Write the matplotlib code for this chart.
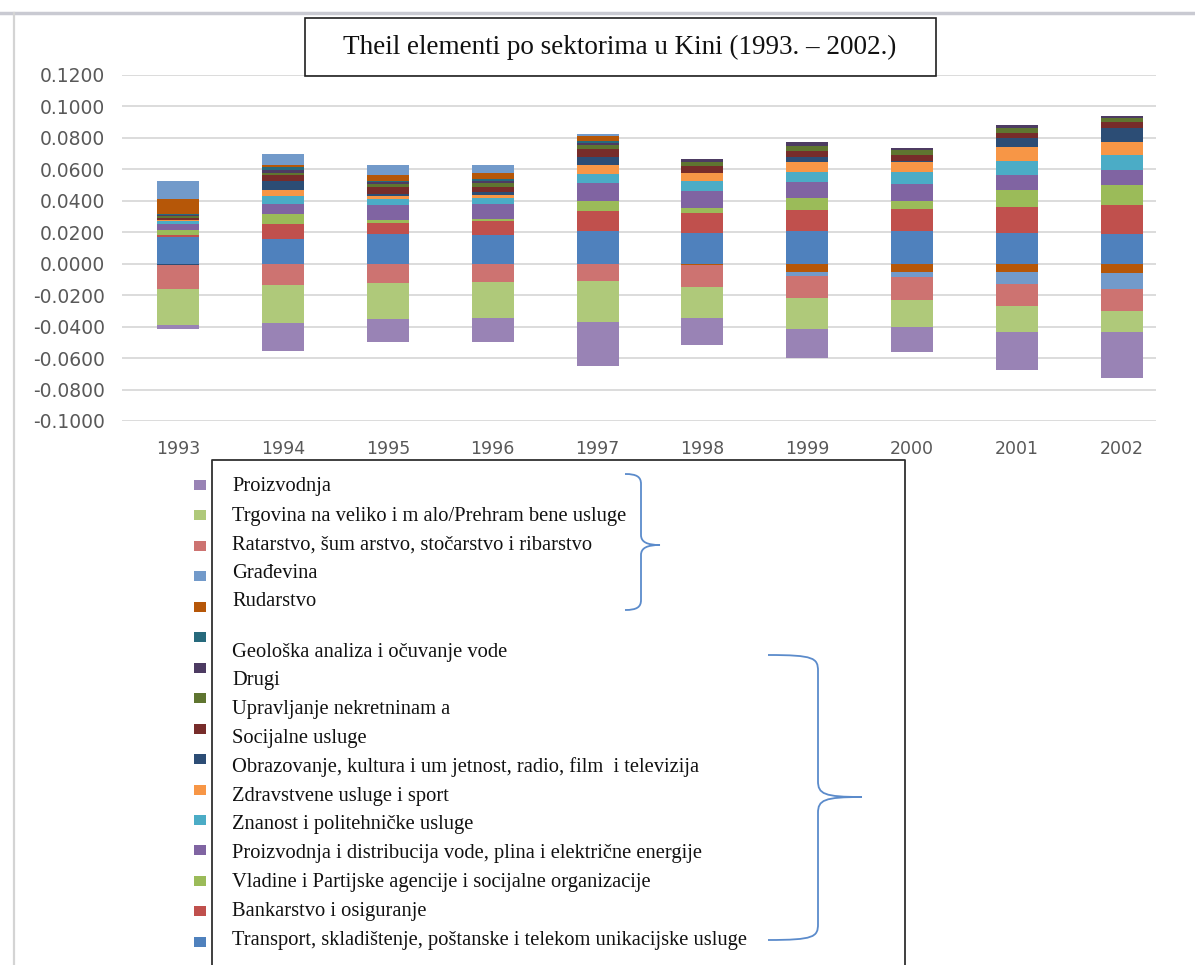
import matplotlib
matplotlib.use("Agg")
import matplotlib.pyplot as plt
from matplotlib.patches import Rectangle, PathPatch
from matplotlib.path import Path
import numpy as np

years = ["1993", "1994", "1995", "1996", "1997", "1998", "1999", "2000", "2001", "2002"]

# series in Excel order (first = bottom of stack)
transport   = [0.0171, 0.0160, 0.0187, 0.0181, 0.0211, 0.0196, 0.0211, 0.0211, 0.0196, 0.0192]
bankarstvo  = [0.0013, 0.0095, 0.0072, 0.0088, 0.0126, 0.0126, 0.0133, 0.0139, 0.0162, 0.0181]
vladine     = [0.0029, 0.0063, 0.0021, 0.0017, 0.0063, 0.0032, 0.0074, 0.0046, 0.0112, 0.0126]
proiz_dist  = [0.0040, 0.0061, 0.0093, 0.0095, 0.0112, 0.0109, 0.0101, 0.0112, 0.0093, 0.0095]
znanost     = [0.0020, 0.0053, 0.0038, 0.0038, 0.0059, 0.0063, 0.0063, 0.0074, 0.0091, 0.0095]
zdravstvene = [0.0008, 0.0038, 0.0021, 0.0019, 0.0059, 0.0048, 0.0067, 0.0065, 0.0091, 0.0088]
obrazovanje = [-0.0008, 0.0059, 0.0013, 0.0017, 0.0046, 0.0006, 0.0027, 0.0006, 0.0053, 0.0088]
socijalne   = [0.0010, 0.0034, 0.0042, 0.0032, 0.0055, 0.0042, 0.0042, 0.0038, 0.0032, 0.0036]
upravljanje = [0.0010, 0.0017, 0.0021, 0.0025, 0.0023, 0.0027, 0.0032, 0.0029, 0.0032, 0.0023]
drugi       = [0.0006, 0.0013, 0.0013, 0.0013, 0.0011, 0.0015, 0.0021, 0.0017, 0.0017, 0.0015]
geoloska    = [0.0010, 0.0019, 0.0008, 0.0013, 0.0013, 0.0003, 0.0005, 0.0, 0.0, 0.0]
rudarstvo   = [0.0095, 0.0015, 0.0036, 0.0042, 0.0034, -0.0010, -0.0051, -0.0051, -0.0053, -0.0057]
gradjevina  = [0.0114, 0.0069, 0.0061, 0.0048, 0.0013, 0.0, -0.0025, -0.0036, -0.0078, -0.0103]
ratarstvo   = [-0.0150, -0.0135, -0.0124, -0.0116, -0.0109, -0.0141, -0.0141, -0.0143, -0.0139, -0.0139]
trgovina    = [-0.0232, -0.0242, -0.0227, -0.0227, -0.0263, -0.0196, -0.0196, -0.0171, -0.0162, -0.0137]
proizvodnja = [-0.0025, -0.0179, -0.0147, -0.0156, -0.0278, -0.0168, -0.0185, -0.0162, -0.0242, -0.0290]

series_values = [transport, bankarstvo, vladine, proiz_dist, znanost, zdravstvene,
                 obrazovanje, socijalne, upravljanje, drugi, geoloska, rudarstvo,
                 gradjevina, ratarstvo, trgovina, proizvodnja]
series_names = [
    "Transport, skladištenje, poštanske i telekom unikacijske usluge",
    "Bankarstvo i osiguranje",
    "Vladine i Partijske agencije i socijalne organizacije",
    "Proizvodnja i distribucija vode, plina i električne energije",
    "Znanost i politehničke usluge",
    "Zdravstvene usluge i sport",
    "Obrazovanje, kultura i um jetnost, radio, film  i televizija",
    "Socijalne usluge",
    "Upravljanje nekretninam a",
    "Drugi",
    "Geološka analiza i očuvanje vode",
    "Rudarstvo",
    "Građevina",
    "Ratarstvo, šum arstvo, stočarstvo i ribarstvo",
    "Trgovina na veliko i m alo/Prehram bene usluge",
    "Proizvodnja",
]
series_colors = ["#4F81BD", "#C0504D", "#9BBB59", "#8064A2", "#4BACC6", "#F79646",
                 "#2C4D75", "#772C2A", "#5F7530", "#4D3B62", "#276A7C", "#B65708",
                 "#729ACA", "#CD7371", "#AFC97A", "#9983B5"]
title = "Theil elementi po sektorima u Kini (1993. – 2002.)"

W, H = 1195, 965
fig = plt.figure(figsize=(W / 100, H / 100), dpi=100)
fig.patch.set_facecolor("white")

# main axes
ax_l, ax_r, ax_t, ax_b = 122, 1156, 75, 421
ax = fig.add_axes([ax_l / W, 1 - ax_b / H, (ax_r - ax_l) / W, (ax_b - ax_t) / H])
x = np.arange(len(years))
pos_bottom = np.zeros(len(years))
neg_bottom = np.zeros(len(years))
for vals, col in zip(series_values, series_colors):
    v = np.array(vals)
    bottoms = np.where(v >= 0, pos_bottom, neg_bottom)
    ax.bar(x, v, width=0.4, bottom=bottoms, color=col, edgecolor="none", zorder=3)
    pos_bottom = pos_bottom + np.where(v > 0, v, 0)
    neg_bottom = neg_bottom + np.where(v < 0, v, 0)

ax.set_ylim(-0.1, 0.12)
ax.set_xlim(-0.534, 9.324)
ticks = np.round(np.arange(-0.1, 0.1201, 0.02), 4)
ax.set_yticks(ticks)
ax.set_yticklabels(["%.4f" % t for t in ticks])
ax.set_xticks(x)
ax.set_xticklabels(years)
ax.grid(axis="y", color="#D9D9D9", linewidth=1.3, zorder=0)
ax.set_axisbelow(True)
for s in ax.spines.values():
    s.set_visible(False)
ax.tick_params(axis="both", length=0, colors="#595959")
ax.tick_params(axis="y", pad=12, labelsize=13.5)
ax.tick_params(axis="x", pad=14, labelsize=12.5)

# overlay in pixel coordinates
ov = fig.add_axes([0, 0, 1, 1], zorder=5)
ov.set_xlim(0, W)
ov.set_ylim(H, 0)
ov.axis("off")
ov.patch.set_alpha(0)

# frame lines of screenshot
ov.plot([0, W], [12.5, 12.5], color="#C9CAD2", lw=2.5)
ov.plot([14.5, 14.5], [13, H], color="#D4D4D4", lw=1.6)

# title box
ov.add_patch(Rectangle((305, 18), 631, 58, fill=False, edgecolor="#202020", lw=1.2))
ov.text(620, 47, title, ha="center", va="center", fontsize=19.5,
        family="Liberation Serif", color="#111111")

# legend box (open at bottom)
ov.plot([212, 212, 905, 905], [H, 460, 460, H], color="#303030", lw=1.3)

# legend markers (top to bottom = reversed series order)
legend_order = list(range(len(series_names)))[::-1]
for i, si in enumerate(legend_order):
    ym = 485 + i * 30.45
    ov.add_patch(Rectangle((194, ym - 5), 12, 10, facecolor=series_colors[si], edgecolor="none"))

text_y = [487, 516, 545, 574, 601] + [652 + j * 28.8 for j in range(11)]
for i, si in enumerate(legend_order):
    ov.text(232, text_y[i], series_names[si], ha="left", va="center", fontsize=14.8,
            family="Liberation Serif", color="#111111")

# braces
brace_col = "#5B8BCB"
def brace(x_end, x_v, x_tip, y_top, y_mid, y_bot, r=12):
    verts = [(x_end, y_top), (x_v - 4, y_top), (x_v, y_top + 3), (x_v, y_top + r),
             (x_v, y_mid - r),
             (x_v, y_mid - 3), (x_v + 6, y_mid), (x_tip, y_mid),
             (x_v + 6, y_mid), (x_v, y_mid + 3), (x_v, y_mid + r),
             (x_v, y_bot - r),
             (x_v, y_bot - 3), (x_v - 4, y_bot), (x_end, y_bot)]
    codes = [Path.MOVETO, Path.CURVE4, Path.CURVE4, Path.CURVE4,
             Path.LINETO,
             Path.CURVE4, Path.CURVE4, Path.CURVE4,
             Path.CURVE4, Path.CURVE4, Path.CURVE4,
             Path.LINETO,
             Path.CURVE4, Path.CURVE4, Path.CURVE4]
    ov.add_patch(PathPatch(Path(verts, codes), fill=False, edgecolor=brace_col, lw=1.3))

brace(625, 641, 660, 474, 545, 610, r=10)
brace(768, 818, 862, 655, 797, 940, r=16)

fig.savefig("out.png", dpi=100, facecolor="white")
